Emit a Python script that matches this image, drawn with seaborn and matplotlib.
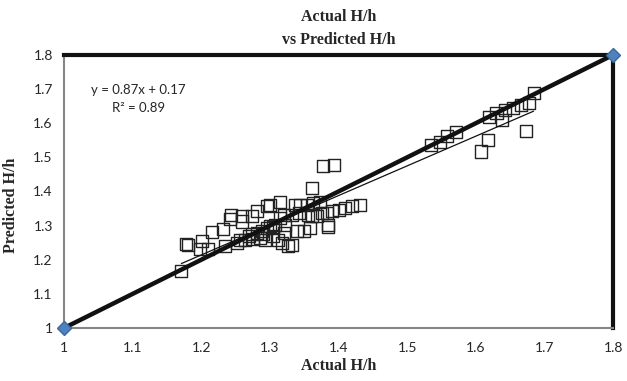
import numpy as np
import pandas as pd
import matplotlib
matplotlib.use("Agg")
import matplotlib.pyplot as plt
import seaborn as sns

# actual vs predicted H/h
actual = [1.171, 1.178, 1.181, 1.198, 1.201, 1.210, 1.215, 1.235, 1.232, 1.242,
          1.244, 1.259, 1.259, 1.274, 1.281, 1.296, 1.252, 1.257, 1.264, 1.269,
          1.274, 1.281, 1.288, 1.293, 1.296, 1.300, 1.308, 1.312, 1.315, 1.300,
          1.315, 1.320, 1.305, 1.322, 1.337, 1.344, 1.354, 1.363, 1.373, 1.332,
          1.342, 1.356, 1.361, 1.368, 1.376, 1.383, 1.390, 1.400, 1.410, 1.419,
          1.431, 1.385, 1.385, 1.359, 1.349, 1.339, 1.320, 1.317, 1.327, 1.332,
          1.305, 1.361, 1.378, 1.394, 1.285, 1.290, 1.276,
          1.535, 1.548, 1.558, 1.571, 1.619, 1.630, 1.638, 1.643, 1.654, 1.665,
          1.677, 1.684, 1.617, 1.607, 1.673]
predicted = [1.168, 1.247, 1.243, 1.231, 1.255, 1.231, 1.280, 1.240, 1.290, 1.320,
             1.330, 1.312, 1.328, 1.328, 1.342, 1.358, 1.248, 1.258, 1.258, 1.269,
             1.274, 1.278, 1.283, 1.258, 1.292, 1.298, 1.302, 1.258, 1.322, 1.360,
             1.370, 1.331, 1.297, 1.302, 1.360, 1.360, 1.360, 1.366, 1.370, 1.331,
             1.336, 1.331, 1.327, 1.327, 1.336, 1.336, 1.342, 1.347, 1.352, 1.356,
             1.361, 1.302, 1.296, 1.292, 1.283, 1.283, 1.278, 1.248, 1.239, 1.243,
             1.269, 1.411, 1.475, 1.478, 1.265, 1.275, 1.262,
             1.535, 1.546, 1.562, 1.574, 1.617, 1.630, 1.610, 1.638, 1.643, 1.654,
             1.659, 1.688, 1.551, 1.517, 1.576]

slope, intercept = 0.87, 0.17
r2 = 0.89
ideal = [1.0, 1.8]
ticks = [1, 1.1, 1.2, 1.3, 1.4, 1.5, 1.6, 1.7, 1.8]
tick_labels = ["1", "1.1", "1.2", "1.3", "1.4", "1.5", "1.6", "1.7", "1.8"]

df = pd.DataFrame({"actual": actual, "predicted": predicted})

sns.set_style("white")
plt.rcParams["font.family"] = ["Lato", "DejaVu Sans"]

fig = plt.figure(figsize=(6.27, 3.81), dpi=100)
ax = fig.add_axes([0.102, 0.139, 0.876, 0.717])

sns.scatterplot(data=df, x="actual", y="predicted", marker="s", s=75,
                facecolor="none", edgecolor="#222222", linewidth=1.0, ax=ax)

# linear trend line over the data range
tx = np.array([min(actual), max(actual)])
sns.lineplot(x=tx, y=slope * tx + intercept, color="#111111", linewidth=0.9, ax=ax)

# 1:1 line
ax.plot(ideal, ideal, color="#111111", linewidth=3.2, zorder=4)
ax.plot(ideal, ideal, linestyle="none", marker="D", markersize=7,
        color="#4F81BD", markeredgecolor="#3A6A9F", zorder=5, clip_on=False)

ax.set_xlim(1, 1.8)
ax.set_ylim(1, 1.8)
ax.set_xticks(ticks)
ax.set_xticklabels(tick_labels, fontsize=10)
ax.set_yticks(ticks)
ax.set_yticklabels(tick_labels, fontsize=10)
ax.tick_params(axis="both", direction="out", length=4, width=1, color="#868686", pad=4)
ax.tick_params(axis="x", pad=6)

for s in ["left", "bottom"]:
    ax.spines[s].set_color("#868686")
    ax.spines[s].set_linewidth(1.5)
for s in ["top", "right"]:
    ax.spines[s].set_color("#111111")
    ax.spines[s].set_linewidth(3)

serif = ["Liberation Serif", "DejaVu Serif"]
ax.set_xlabel("Actual H/h", family=serif, fontweight="bold", fontsize=11.5, labelpad=3)
ax.set_ylabel("Predicted H/h", family=serif, fontweight="bold", fontsize=11.5, labelpad=8)
ax.yaxis.set_label_coords(-0.082, 0.45)
ax.set_title("Actual H/h\nvs Predicted H/h", family=serif, fontweight="bold",
             fontsize=11.5, pad=8, linespacing=1.55)

ax.text(1.04, 1.698, f"y = {slope}x + {intercept}", fontsize=9.5, va="center")
ax.text(1.07, 1.645, f"R² = {r2}", fontsize=9.5, va="center")

fig.savefig("out.png", dpi=100)
